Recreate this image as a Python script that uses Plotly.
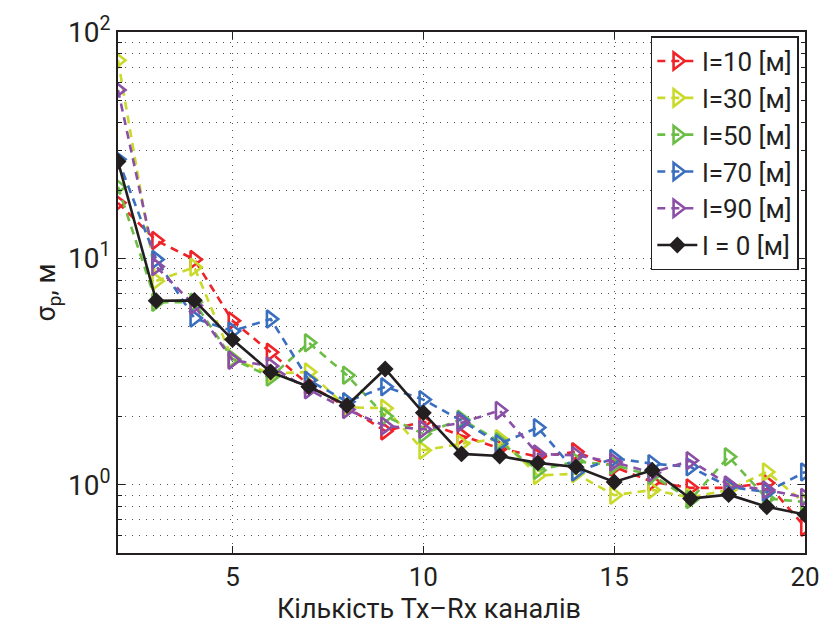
import plotly.graph_objects as go

channels = list(range(2, 21))
l10 = [17.6, 12.0, 9.9, 5.3, 3.85, 2.76, 2.2, 1.73, 1.9, 1.65, 1.45, 1.33, 1.4, 1.2, 1.03, 0.97, 0.97, 1.02, 0.65]
l30 = [75.0, 7.95, 9.15, 3.6, 3.1, 3.15, 2.2, 2.18, 1.42, 1.52, 1.6, 1.1, 1.12, 0.9, 0.95, 0.88, 0.95, 1.14, 0.83]
l50 = [20.7, 6.4, 6.4, 3.6, 2.99, 4.24, 3.05, 2.01, 1.68, 1.95, 1.55, 1.16, 1.27, 1.22, 1.1, 0.86, 1.33, 0.87, 0.84]
l70 = [27.4, 9.9, 5.45, 4.78, 5.4, 2.9, 2.33, 2.71, 2.38, 1.92, 1.52, 1.79, 1.14, 1.31, 1.24, 1.2, 0.98, 0.93, 1.14]
l90 = [55.5, 9.2, 6.2, 3.55, 3.35, 2.63, 2.15, 1.82, 1.76, 1.88, 2.13, 1.37, 1.35, 1.26, 1.13, 1.28, 1.0, 0.95, 0.88]
l0 = [26.8, 6.5, 6.53, 4.38, 3.15, 2.71, 2.24, 3.25, 2.08, 1.37, 1.34, 1.25, 1.2, 1.03, 1.16, 0.87, 0.905, 0.8, 0.74]

names = ["l=10 [м]", "l=30 [м]", "l=50 [м]", "l=70 [м]", "l=90 [м]"]
colors = ["#EE2227", "#C9DA2A", "#6CBD45", "#3A6EBF", "#8B4FA6"]
series = [l10, l30, l50, l70, l90]
x_title = "Кількість Tx–Rx каналів"
y_title = "σ<sub>p</sub>, м"
y_major = [1, 10, 100]
y_major_text = ["10<sup>0</sup>", "10<sup>1</sup>", "10<sup>2</sup>"]
y_minor = [0.5, 0.6, 0.7, 0.8, 0.9, 2, 3, 4, 5, 6, 7, 8, 9, 20, 30, 40, 50, 60, 70, 80, 90]

fig = go.Figure()
for name, col, ys in zip(names, colors, series):
    fig.add_trace(go.Scatter(
        x=channels, y=ys, name=name, mode="lines+markers",
        line=dict(color=col, width=2.6, dash="8px,6px"),
        marker=dict(symbol="triangle-right-open", size=15, color=col, line=dict(width=2.6, color=col)),
    ))
fig.add_trace(go.Scatter(
    x=channels, y=l0, name="l = 0 [м]", mode="lines+markers",
    line=dict(color="#231F20", width=2.6),
    marker=dict(symbol="diamond", size=13, color="#231F20"),
))

grid = dict(showgrid=True, gridcolor="#555555", griddash="1px,6px", gridwidth=1)

fig.update_layout(
    width=832, height=624,
    margin=dict(l=118, r=20, t=23, b=71),
    paper_bgcolor="white", plot_bgcolor="white",
    font=dict(family="Roboto", size=24, color="#231F20"),
    showlegend=True,
    legend=dict(x=0.991, y=0.992, xanchor="right", yanchor="top",
                bordercolor="#231F20", borderwidth=1.5, bgcolor="white",
                font=dict(size=26), tracegroupgap=0, itemwidth=40),
    annotations=[dict(text=x_title, xref="paper", yref="paper",
                      x=(432 - 118) / 694, y=(553 - 610) / 530,
                      xanchor="center", yanchor="middle", showarrow=False,
                      font=dict(size=27))],
)
fig.update_xaxes(
    range=[2, 20], tickvals=[5, 10, 15, 20],
    showline=True, linecolor="#231F20", linewidth=2, mirror="ticks",
    ticks="inside", ticklen=7, tickcolor="#231F20",
    zeroline=False, tickfont=dict(size=26), **grid,
)
fig.update_yaxes(
    type="log", range=[-0.301, 2],
    tickvals=y_major, ticktext=y_major_text,
    showline=True, linecolor="#231F20", linewidth=2, mirror="ticks",
    ticks="inside", ticklen=7, tickcolor="#231F20",
    zeroline=False, tickfont=dict(size=28), **grid,
    minor=dict(tickvals=y_minor, ticks="inside", ticklen=4, tickcolor="#231F20", **grid),
    title=dict(text=y_title, font=dict(size=27), standoff=4),
)

fig.write_html("out.html")
